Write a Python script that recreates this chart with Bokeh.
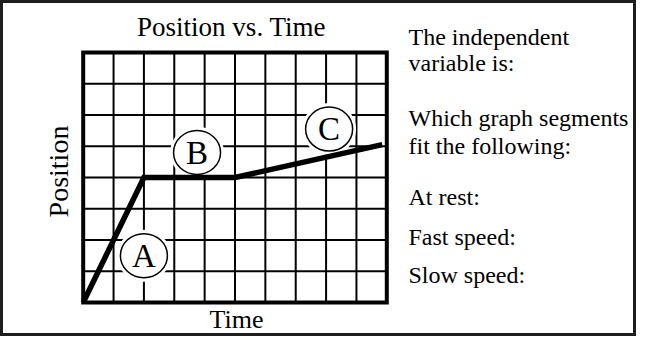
from bokeh.plotting import figure
from bokeh.models import Range1d, Label
from bokeh.core.properties import value
from bokeh.embed import file_html
from bokeh.resources import INLINE

# ---------------- data ----------------
time_pts = [0, 2, 5, 9.85]
position_pts = [0, 4, 4, 5.05]

seg_labels = ["A", "B", "C"]
seg_label_x = [2.0, 3.75, 8.1]
seg_label_y = [1.5, 4.8, 5.55]

x_limits = [0, 10]
y_limits = [0, 8]
x_grid_ticks = [1, 2, 3, 4, 5, 6, 7, 8, 9]
y_grid_ticks = [1, 2, 3, 4, 5, 6, 7]

title_text = "Position vs. Time"
x_label = "Time"
y_label = "Position"
side_text = ["The independent", "variable is:", "Which graph segments",
             "fit the following:", "At rest:", "Fast speed:", "Slow speed:"]

# ---------------- layout (canvas pixels, from top-left) ----------------
W, H = 636, 336
GRAPH_LEFT, GRAPH_RIGHT = 82.7, 386.3
GRAPH_TOP, GRAPH_BOTTOM = 52.0, 302.0
title_pos = (231, 36.5)      # (centre x, baseline y)
xlabel_pos = (236, 328.5)    # (centre x, baseline y)
ylabel_pos = (68, 171)       # (baseline x, centre y)
side_text_x = 408
side_text_base = [45.2, 71.0, 126.7, 154.1, 205.0, 245.0, 283.0]
BASELINE_FIX = 0.37          # measured shift of rendered baseline, x font size

FONT = "Liberation Serif"

# data ranges chosen so the graph box lands on the layout above
px_per_x = (GRAPH_RIGHT - GRAPH_LEFT) / (x_limits[1] - x_limits[0])
px_per_y = (GRAPH_BOTTOM - GRAPH_TOP) / (y_limits[1] - y_limits[0])
x_rng = Range1d(x_limits[0] - GRAPH_LEFT / px_per_x,
                x_limits[0] + (W - GRAPH_LEFT) / px_per_x)
y_rng = Range1d(y_limits[0] - (H - GRAPH_BOTTOM) / px_per_y,
                y_limits[0] + GRAPH_BOTTOM / px_per_y)

p = figure(width=W, height=H, x_range=x_rng, y_range=y_rng,
           x_axis_location=None, y_axis_location=None,
           output_backend="svg", toolbar_location=None,
           min_border=0, min_border_left=0, min_border_right=0,
           min_border_top=0, min_border_bottom=0,
           background_fill_color="white", border_fill_color="white")
p.grid.visible = False
p.outline_line_color = "#1e1e1e"
p.outline_line_width = 5

# grid lines inside the graph box
n_x, n_y = len(x_grid_ticks), len(y_grid_ticks)
p.segment(x0=x_grid_ticks, y0=[y_limits[0]] * n_x,
          x1=x_grid_ticks, y1=[y_limits[1]] * n_x,
          line_color="black", line_width=2)
p.segment(x0=[x_limits[0]] * n_y, y0=y_grid_ticks,
          x1=[x_limits[1]] * n_y, y1=y_grid_ticks,
          line_color="black", line_width=2)

# white halos behind the labelled circles
p.ellipse(x=seg_label_x, y=seg_label_y, width=54, height=52,
          width_units="screen", height_units="screen",
          fill_color="white", line_color=None)

# graph box
p.quad(left=[x_limits[0]], right=[x_limits[1]],
       bottom=[y_limits[0]], top=[y_limits[1]],
       fill_color=None, line_color="black", line_width=4, line_join="miter")

# position-time line
p.line(time_pts, position_pts, line_width=5.5, line_color="black",
       line_join="miter")

# circles with letters
p.ellipse(x=seg_label_x, y=seg_label_y, width=47, height=44,
          width_units="screen", height_units="screen",
          fill_color="white", line_color="black", line_width=1.5)
p.text(x=seg_label_x, y=seg_label_y, text=seg_labels,
       text_align="center", text_baseline="middle",
       text_font=value(FONT), text_font_size="33px", text_color="black")


def add_text(txt, x, y_top, size_px, align="left", rotated=False):
    fix = BASELINE_FIX * size_px
    if rotated:
        sx, sy, ang = x - fix, H - y_top, 1.5707963267948966
    else:
        sx, sy, ang = x, H - (y_top - fix), 0.0
    p.add_layout(Label(x=sx, y=sy, x_units="screen", y_units="screen",
                       text=txt, text_align=align, text_baseline="alphabetic",
                       angle=ang, text_font=FONT, text_font_size=f"{size_px}px",
                       text_color="black"))


add_text(title_text, title_pos[0], title_pos[1], 27, align="center")
add_text(x_label, xlabel_pos[0], xlabel_pos[1], 26, align="center")
add_text(y_label, ylabel_pos[0], ylabel_pos[1], 28, align="center", rotated=True)
for txt, base in zip(side_text, side_text_base):
    add_text(txt, side_text_x, base, 24)

open("out.html", "w").write(file_html(p, INLINE))
